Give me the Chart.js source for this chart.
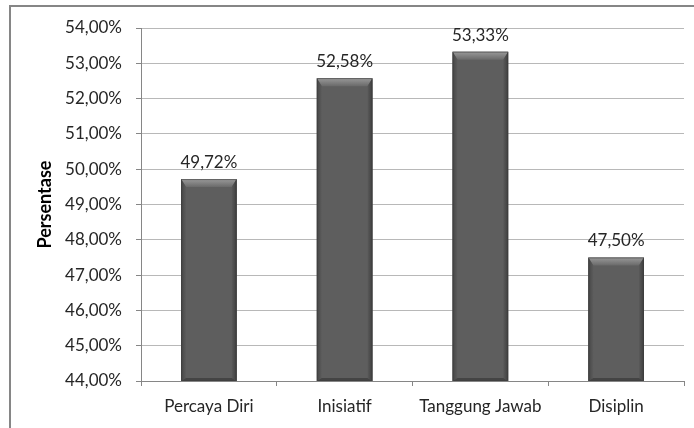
<!DOCTYPE html>
<html lang="id">
<head>
    <meta charset="utf-8">
    <title>Persentase</title>
    <script src="https://cdn.jsdelivr.net/npm/chart.js@4.4.1/dist/chart.umd.min.js"></script>
    <style>
        html, body { margin: 0; padding: 0; background: #fff; }
        #wrap { width: 694px; height: 428px; }
    </style>
</head>
<body>
    <div id="wrap"><canvas id="chart" width="694" height="428"></canvas></div>
    <script>
        const categories = ['Percaya Diri', 'Inisiatif', 'Tanggung Jawab', 'Disiplin'];
        const values = [49.72, 52.58, 53.33, 47.50];
        const yMin = 44;
        const yMax = 54;
        const yStep = 1;

        const fontFamily = 'Lato, "Open Sans", sans-serif';
        const fmt = v => v.toFixed(2).replace('.', ',') + '%';

        // outer frame of the chart (left and top edges show in the picture)
        const framePlugin = {
            id: 'frame',
            beforeDraw(chart) {
                const ctx = chart.ctx;
                ctx.save();
                ctx.fillStyle = '#fff';
                ctx.fillRect(0, 0, chart.width, chart.height);
                ctx.strokeStyle = '#868686';
                ctx.lineWidth = 2;
                ctx.beginPath();
                ctx.moveTo(10, chart.height);
                ctx.lineTo(10, 6);
                ctx.lineTo(chart.width, 6);
                ctx.stroke();
                ctx.restore();
            }
        };

        // bevel look on the bars plus value labels
        const bevelPlugin = {
            id: 'bevel',
            afterDatasetsDraw(chart) {
                const ctx = chart.ctx;
                const area = chart.chartArea;
                const meta = chart.getDatasetMeta(0);
                ctx.save();
                meta.data.forEach((bar, i) => {
                    const p = bar.getProps(['x', 'y', 'base', 'width'], true);
                    const l = p.x - p.width / 2, r = p.x + p.width / 2;
                    const t = p.y, b = Math.min(p.base, area.bottom);
                    const bt = 8, bs = 5;
                    // top bevel
                    let g = ctx.createLinearGradient(0, t, 0, t + bt);
                    g.addColorStop(0, '#9a9a9a');
                    g.addColorStop(1, '#6a6a6a');
                    ctx.fillStyle = g;
                    ctx.beginPath();
                    ctx.moveTo(l, t); ctx.lineTo(r, t);
                    ctx.lineTo(r - bs, t + bt); ctx.lineTo(l + bs, t + bt);
                    ctx.closePath(); ctx.fill();
                    // left bevel
                    g = ctx.createLinearGradient(l, 0, l + bs, 0);
                    g.addColorStop(0, '#454545');
                    g.addColorStop(1, '#5c5c5c');
                    ctx.fillStyle = g;
                    ctx.beginPath();
                    ctx.moveTo(l, t); ctx.lineTo(l + bs, t + bt);
                    ctx.lineTo(l + bs, b - 3); ctx.lineTo(l, b);
                    ctx.closePath(); ctx.fill();
                    // right bevel
                    g = ctx.createLinearGradient(r - bs, 0, r, 0);
                    g.addColorStop(0, '#5a5a5a');
                    g.addColorStop(1, '#3e3e3e');
                    ctx.fillStyle = g;
                    ctx.beginPath();
                    ctx.moveTo(r, t); ctx.lineTo(r - bs, t + bt);
                    ctx.lineTo(r - bs, b - 3); ctx.lineTo(r, b);
                    ctx.closePath(); ctx.fill();
                    // bottom edge
                    ctx.fillStyle = '#444';
                    ctx.beginPath();
                    ctx.moveTo(l, b); ctx.lineTo(l + bs, b - 3);
                    ctx.lineTo(r - bs, b - 3); ctx.lineTo(r, b);
                    ctx.closePath(); ctx.fill();
                    // soft outline
                    ctx.strokeStyle = 'rgba(60,60,60,0.6)';
                    ctx.lineWidth = 1;
                    ctx.strokeRect(l + 0.5, t + 0.5, p.width - 1, b - t - 1);

                    // value label
                    ctx.fillStyle = '#262626';
                    ctx.font = '17px ' + fontFamily;
                    ctx.textAlign = 'center';
                    ctx.textBaseline = 'bottom';
                    ctx.fillText(fmt(values[i]), p.x, t - 8);
                });
                ctx.restore();
            }
        };

        new Chart(document.getElementById('chart'), {
            type: 'bar',
            data: {
                labels: categories,
                datasets: [{
                    data: values,
                    backgroundColor: '#5e5e5e',
                    borderWidth: 0,
                    barPercentage: 0.41,
                    categoryPercentage: 1
                }]
            },
            options: {
                responsive: false,
                animation: false,
                devicePixelRatio: 1,
                layout: { padding: { top: 28, right: 10, bottom: 0, left: 0 } },
                plugins: {
                    legend: { display: false },
                    tooltip: { enabled: false }
                },
                scales: {
                    x: {
                        grid: {
                            offset: true,
                            drawOnChartArea: false,
                            drawTicks: true,
                            tickLength: 5,
                            color: '#868686'
                        },
                        border: { color: '#868686', width: 1 },
                        ticks: {
                            color: '#262626',
                            padding: 10,
                            font: { family: fontFamily, size: 17 }
                        },
                        afterFit: s => { s.height = 47; }
                    },
                    y: {
                        min: yMin,
                        max: yMax,
                        grid: {
                            color: '#b8b8b8',
                            tickLength: 5,
                            tickColor: '#868686'
                        },
                        border: { color: '#868686', width: 1 },
                        ticks: {
                            stepSize: yStep,
                            color: '#262626',
                            padding: 14,
                            font: { family: fontFamily, size: 17 },
                            callback: v => fmt(v)
                        },
                        title: {
                            display: true,
                            text: 'Persentase',
                            color: '#000',
                            font: { family: fontFamily, size: 18, weight: 'bold' },
                            padding: { top: 34, bottom: 0 }
                        },
                        afterFit: s => { s.width = 141; }
                    }
                }
            },
            plugins: [framePlugin, bevelPlugin]
        });
    </script>
</body>
</html>
